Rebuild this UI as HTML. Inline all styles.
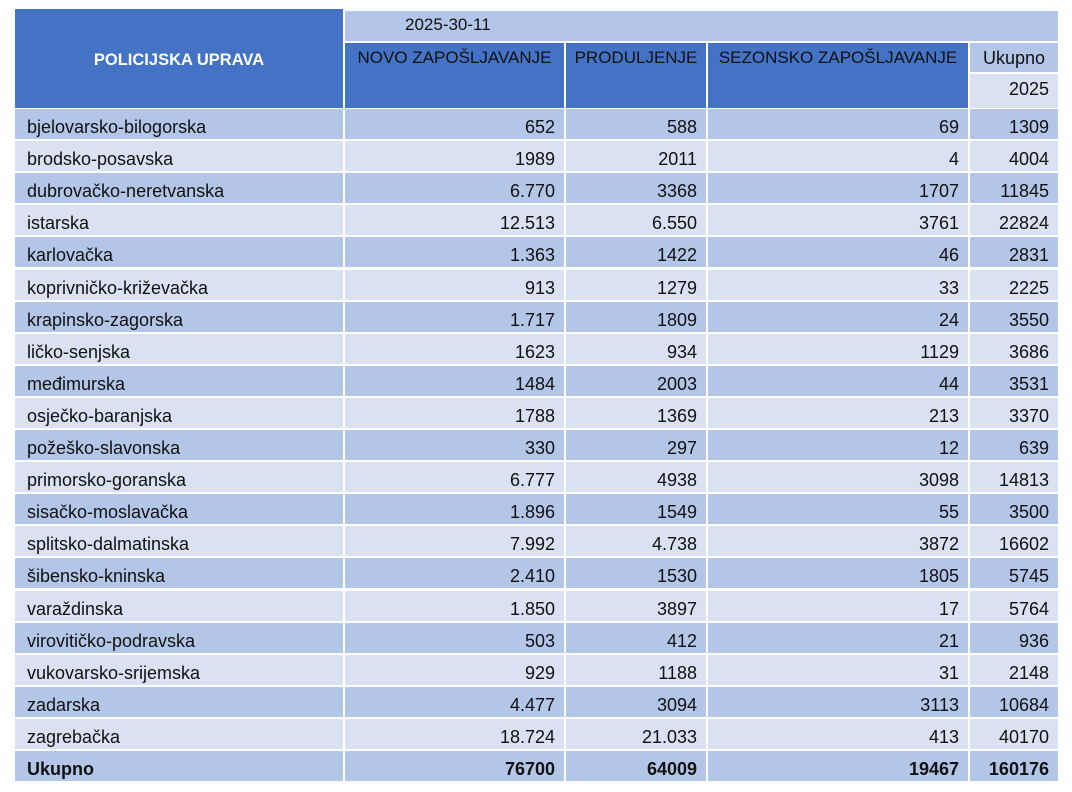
<!DOCTYPE html>
<html><head><meta charset="utf-8">
<style>
body{margin:0;background:#fff;width:1072px;height:792px;overflow:hidden;position:relative;font-family:"Liberation Sans",sans-serif;color:#111;}
.c{position:absolute;box-sizing:border-box;font-size:18px;white-space:nowrap;overflow:hidden;}
.d{background:#b4c6e7}.l{background:#d9e1f2}.h{background:#4472c4}
</style></head><body>
<div class="c h" style="left:15px;top:9px;width:328px;height:99px;color:#fff;font-weight:bold;display:flex;align-items:center;justify-content:center;font-size:16.5px;padding-top:4px;">POLICIJSKA UPRAVA</div>
<div class="c d" style="left:345px;top:11px;width:713px;height:30px;padding:4px 0 0 60px;font-size:17px;">2025-30-11</div>
<div class="c h" style="left:345px;top:43px;width:219px;height:65px;text-align:center;padding-top:5px;font-size:17px;">NOVO ZAPOŠLJAVANJE</div>
<div class="c h" style="left:566px;top:43px;width:140px;height:65px;text-align:center;padding-top:5px;font-size:17px;">PRODULJENJE</div>
<div class="c h" style="left:708px;top:43px;width:260px;height:65px;text-align:center;padding-top:5px;font-size:17px;">SEZONSKO ZAPOŠLJAVANJE</div>
<div class="c d" style="left:970px;top:43px;width:88px;height:29px;text-align:center;padding-top:5px;">Ukupno</div>
<div class="c l" style="left:970px;top:74px;width:88px;height:34px;text-align:right;padding:5px 9px 0 0;">2025</div>
<div id="rows"></div>
<script>
const names=["bjelovarsko-bilogorska","brodsko-posavska","dubrovačko-neretvanska","istarska","karlovačka","koprivničko-križevačka","krapinsko-zagorska","ličko-senjska","međimurska","osječko-baranjska","požeško-slavonska","primorsko-goranska","sisačko-moslavačka","splitsko-dalmatinska","šibensko-kninska","varaždinska","virovitičko-podravska","vukovarsko-srijemska","zadarska","zagrebačka","Ukupno"];
const novo=["652","1989","6.770","12.513","1.363","913","1.717","1623","1484","1788","330","6.777","1.896","7.992","2.410","1.850","503","929","4.477","18.724","76700"];
const prod=["588","2011","3368","6.550","1422","1279","1809","934","2003","1369","297","4938","1549","4.738","1530","3897","412","1188","3094","21.033","64009"];
const sez=["69","4","1707","3761","46","33","24","1129","44","213","12","3098","55","3872","1805","17","21","31","3113","413","19467"];
const uk=["1309","4004","11845","22824","2831","2225","3550","3686","3531","3370","639","14813","3500","16602","5745","5764","936","2148","10684","40170","160176"];
const cols=[[15,328],[345,219],[566,140],[708,260],[970,88]];
const root=document.getElementById('rows');
names.forEach((n,i)=>{
  const top=109+i*32.1;
  const vals=[n,novo[i],prod[i],sez[i],uk[i]];
  vals.forEach((v,j)=>{
    const el=document.createElement('div');
    el.className='c '+(i%2===0?'d':'l');
    
    
    el.style.left=cols[j][0]+'px';el.style.width=cols[j][1]+'px';
    el.style.top=top+'px';el.style.height='30.1px';
    el.style.paddingTop='8px';
    if(j===0){el.style.paddingLeft='12px';}else{el.style.textAlign='right';el.style.paddingRight='9px';}
    if(i===names.length-1)el.style.fontWeight='bold';
    el.textContent=v;
    root.appendChild(el);
  });
});
</script>
</body></html>
